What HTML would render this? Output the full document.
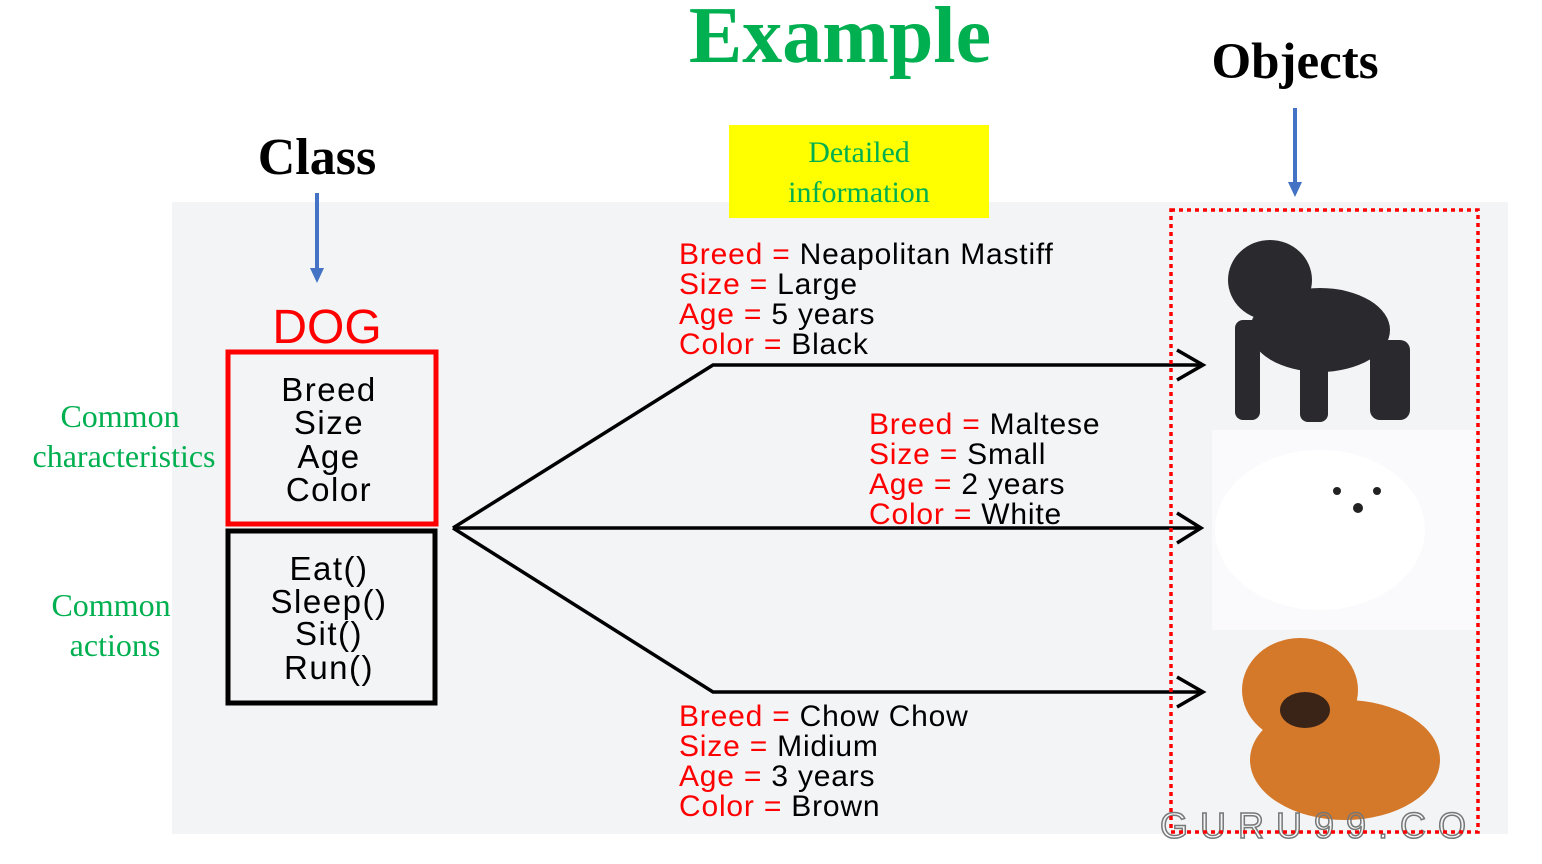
<!DOCTYPE html>
<html><head><meta charset="utf-8"><style>
body{margin:0;background:#fff;width:1542px;height:864px;overflow:hidden}
svg{display:block}
.s{font-family:"Liberation Serif",serif}
.h{font-family:"Liberation Sans",sans-serif;font-size:30px;letter-spacing:0.8px}
.c{font-family:"Liberation Sans",sans-serif;font-size:33px;letter-spacing:1.5px}
</style></head><body>
<svg width="1542" height="864" viewBox="0 0 1542 864">
<rect x="172" y="202" width="1336" height="632" fill="#f3f4f6"/>
<text x="840" y="62" text-anchor="middle" class="s" font-size="80" font-weight="bold" fill="#00b050">Example</text>
<text x="1295" y="78" text-anchor="middle" class="s" font-size="51" font-weight="bold">Objects</text>
<text x="317" y="174" text-anchor="middle" class="s" font-size="52" font-weight="bold">Class</text>
<g stroke="#4472c4" stroke-width="4" fill="#4472c4">
<line x1="317" y1="193" x2="317" y2="270"/><polygon points="310,268 324,268 317,283" stroke="none"/>
<line x1="1295" y1="108" x2="1295" y2="184"/><polygon points="1288,182 1302,182 1295,197" stroke="none"/>
</g>
<rect x="729" y="125" width="260" height="93" fill="#ffff00"/>
<text x="859" y="162" text-anchor="middle" class="s" font-size="30" fill="#00b050">Detailed</text>
<text x="859" y="202" text-anchor="middle" class="s" font-size="30" fill="#00b050">information</text>
<g class="s" font-size="32" fill="#00b050" text-anchor="middle">
<text x="120" y="427">Common</text><text x="124" y="467">characteristics</text>
<text x="111" y="616">Common</text><text x="115" y="656">actions</text>
</g>
<text x="327" y="343" text-anchor="middle" font-family="Liberation Sans,sans-serif" font-size="48" fill="#ff0000">DOG</text>
<rect x="228" y="352" width="208" height="172" fill="none" stroke="#ff0000" stroke-width="5"/>
<rect x="228" y="531" width="207" height="172" fill="none" stroke="#000" stroke-width="5"/>
<g class="c" text-anchor="middle">
<text x="329" y="401">Breed</text><text x="329" y="434">Size</text><text x="329" y="468">Age</text><text x="329" y="501">Color</text>
<text x="329" y="580">Eat()</text><text x="329" y="613">Sleep()</text><text x="329" y="645">Sit()</text><text x="329" y="679">Run()</text>
</g>
<g stroke="#000" stroke-width="3.5" fill="none">
<polyline points="453,528 713,365 1200,365"/>
<line x1="453" y1="528" x2="1200" y2="528"/>
<polyline points="453,528 713,692 1200,692"/>
<polyline points="1177,350 1203,365 1177,380"/>
<polyline points="1177,513 1201,528 1177,543"/>
<polyline points="1177,677 1203,692 1177,707"/>
</g>
<g class="h">
<text x="679" y="264"><tspan fill="#f00">Breed = </tspan>Neapolitan Mastiff</text>
<text x="679" y="294"><tspan fill="#f00">Size = </tspan>Large</text>
<text x="679" y="324"><tspan fill="#f00">Age = </tspan>5 years</text>
<text x="679" y="354"><tspan fill="#f00">Color = </tspan>Black</text>
<text x="869" y="434"><tspan fill="#f00">Breed = </tspan>Maltese</text>
<text x="869" y="464"><tspan fill="#f00">Size = </tspan>Small</text>
<text x="869" y="494"><tspan fill="#f00">Age = </tspan>2 years</text>
<text x="869" y="524"><tspan fill="#f00">Color = </tspan>White</text>
<text x="679" y="726"><tspan fill="#f00">Breed = </tspan>Chow Chow</text>
<text x="679" y="756"><tspan fill="#f00">Size = </tspan>Midium</text>
<text x="679" y="786"><tspan fill="#f00">Age = </tspan>3 years</text>
<text x="679" y="816"><tspan fill="#f00">Color = </tspan>Brown</text>
</g>
<g fill="#2a2a2e">
<ellipse cx="1270" cy="280" rx="42" ry="40"/>
<ellipse cx="1320" cy="330" rx="70" ry="42"/>
<rect x="1235" y="320" width="25" height="100" rx="8"/>
<rect x="1300" y="340" width="28" height="82" rx="8"/>
<rect x="1370" y="340" width="40" height="80" rx="10"/>
</g>
<rect x="1212" y="430" width="265" height="200" fill="#fafafc"/>
<ellipse cx="1320" cy="530" rx="105" ry="80" fill="#fff"/>
<circle cx="1337" cy="491" r="4" fill="#222"/><circle cx="1377" cy="491" r="4" fill="#222"/><circle cx="1358" cy="508" r="5" fill="#222"/>
<g fill="#d4782a">
<ellipse cx="1300" cy="690" rx="58" ry="52"/>
<ellipse cx="1345" cy="760" rx="95" ry="60"/>
</g>
<ellipse cx="1305" cy="710" rx="25" ry="18" fill="#3a2418"/>
<text x="1160" y="838" font-family="Liberation Sans,sans-serif" font-size="36" fill="none" stroke="#777" stroke-width="1.5" letter-spacing="12">GURU99.CO</text>
<rect x="1171" y="210" width="307" height="622" fill="none" stroke="#ff0000" stroke-width="3.5" stroke-dasharray="4,4"/>
</svg>
</body></html>
